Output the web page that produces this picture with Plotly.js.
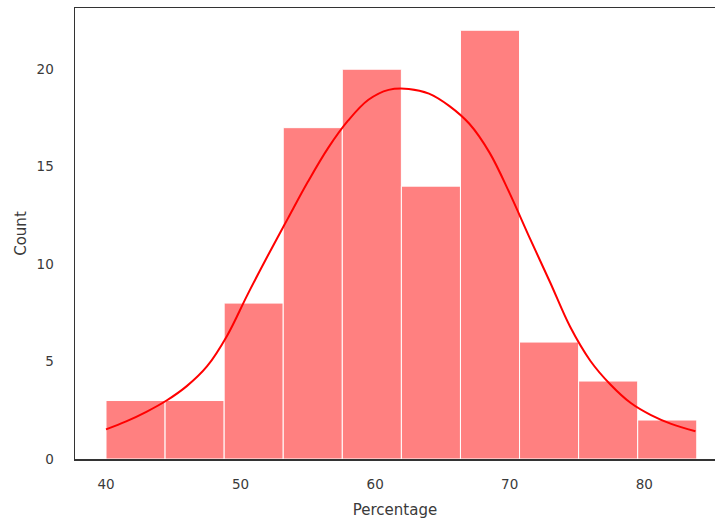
<!DOCTYPE html>
<html>
<head>
<meta charset="utf-8">
<script src="https://cdn.plot.ly/plotly-3.0.1.min.js"></script>
<style>html,body{margin:0;padding:0;background:#fff;}#chart{width:715px;height:523px;}</style>
</head>
<body>
<div id="chart"></div>
<script>
// Histogram bins (Percentage) and counts
const binStart = 40.0;
const binWidth = 4.39;
const counts = [3, 3, 8, 17, 20, 14, 22, 6, 4, 2];

// KDE curve (scaled to counts)
const kdeX = [40, 41.5, 43, 44.5, 46, 47.5, 49, 50.5, 52, 53.5, 55, 56.5, 58, 59.5, 61, 62.5, 64, 65.5, 67, 68.5, 70, 71.5, 73, 74.5, 76, 77.5, 79, 80.5, 82, 83.8];
const kdeY = [1.52, 1.93, 2.42, 3.0, 3.74, 4.75, 6.33, 8.41, 10.4, 12.32, 14.22, 15.95, 17.37, 18.43, 18.94, 18.99, 18.75, 18.12, 17.2, 15.72, 13.63, 11.32, 9.07, 6.77, 5.03, 3.81, 2.87, 2.25, 1.80, 1.42];

const xTicks = [40, 50, 60, 70, 80];
const yTicks = [0, 5, 10, 15, 20];

const centers = counts.map((c, i) => binStart + binWidth * (i + 0.5));

const traces = [
  {
    type: 'bar',
    x: centers,
    y: counts,
    width: binWidth,
    marker: {color: '#ff8080', line: {color: '#ffffff', width: 1}},
    hoverinfo: 'x+y'
  },
  {
    type: 'scatter',
    mode: 'lines',
    x: kdeX,
    y: kdeY,
    line: {color: '#ff0000', width: 2, shape: 'spline', smoothing: 1},
    hoverinfo: 'skip'
  }
];

const fam = 'DejaVu Sans, sans-serif';
const tickFont = {family: fam, size: 13.5, color: '#3a3a3a'};
const titleFont = {family: fam, size: 15, color: '#3a3a3a'};

const layout = {
  width: 715,
  height: 523,
  margin: {l: 75, r: 0, t: 8, b: 64, pad: 0},
  paper_bgcolor: '#ffffff',
  plot_bgcolor: '#ffffff',
  showlegend: false,
  bargap: 0,
  font: tickFont,
  xaxis: {
    range: [37.696, 85.255],
    tickvals: xTicks,
    ticktext: xTicks.map(String),
    showgrid: false,
    zeroline: false,
    showline: true,
    linecolor: '#333333',
    linewidth: 1.5,
    mirror: true,
    ticks: '',
    ticklabelstandoff: 12,
    tickfont: tickFont,
    title: {text: 'Percentage', font: titleFont, standoff: 14},
    automargin: false
  },
  yaxis: {
    range: [0, 23.14],
    tickvals: yTicks,
    ticktext: yTicks.map(String),
    showgrid: false,
    zeroline: false,
    showline: true,
    linecolor: '#333333',
    linewidth: 1.5,
    ticks: '',
    ticklabelstandoff: 17,
    tickfont: tickFont,
    title: {text: 'Count', font: titleFont, standoff: 6},
    automargin: false
  }
};

Plotly.newPlot('chart', traces, layout, {displayModeBar: false, staticPlot: true});
</script>
</body>
</html>
